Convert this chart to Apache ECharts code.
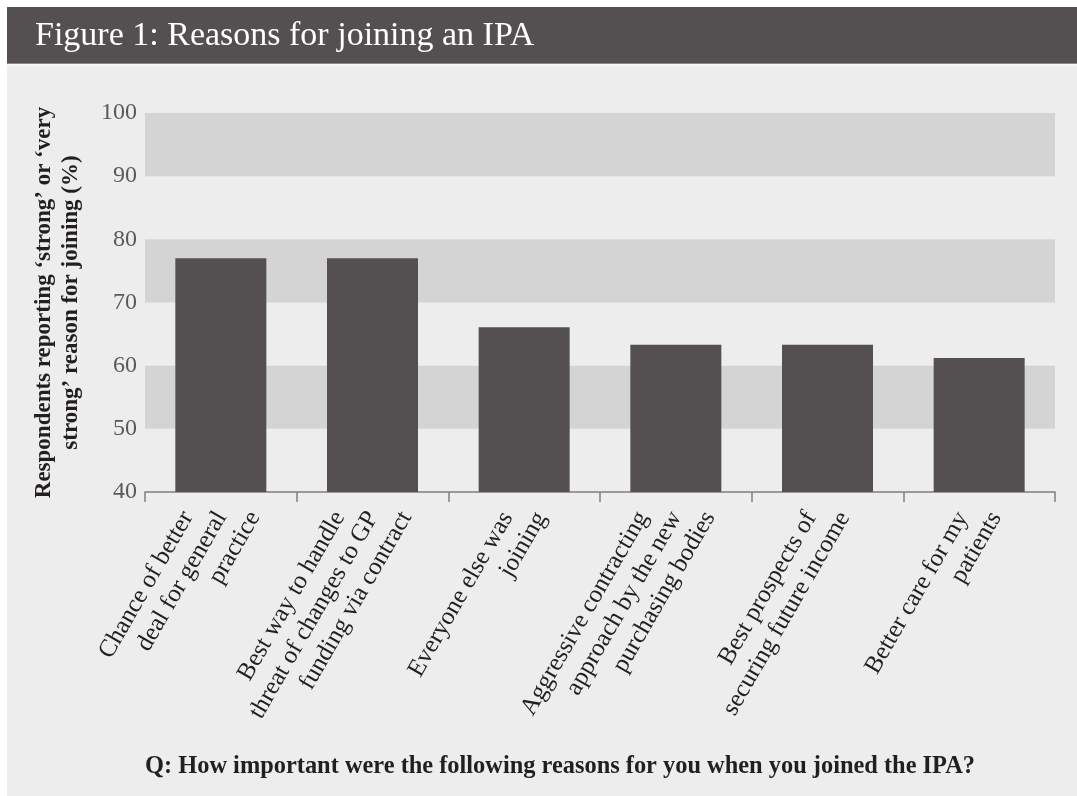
<!DOCTYPE html>
<html>
<head>
<meta charset="utf-8">
<script src="https://cdn.jsdelivr.net/npm/echarts@6/dist/echarts.min.js"></script>
<style>
html,body{margin:0;padding:0;background:#ffffff;}
#chart{width:1077px;height:796px;}
</style>
</head>
<body>
<div id="chart"></div>
<script>
// ---- data ----
var titleText = 'Figure 1: Reasons for joining an IPA';
var questionText = 'Q: How important were the following reasons for you when you joined the IPA?';
var yAxisTitle = 'Respondents reporting \u2018strong\u2019 or \u2018very\nstrong\u2019 reason for joining (%)';
var categories = [
  'Chance of better\ndeal for general\npractice',
  'Best way to handle\nthreat of changes to GP\nfunding via contract',
  'Everyone else was\njoining',
  'Aggressive contracting\napproach by the new\npurchasing bodies',
  'Best prospects of\nsecuring future income',
  'Better care for my\npatients'
];
var values = [77.0, 77.0, 66.1, 63.3, 63.3, 61.2];
var yMin = 40, yMax = 100, yStep = 10;

// ---- styling ----
var SERIF = '"Liberation Serif", "DejaVu Serif", serif';
var DARK = '#545051';
var TEXT = '#231f20';
var LH = 29;          // label line height
var STEP = 16.7;      // per-line shift along text direction
var EXTRA2 = 8.8;     // extra shift for two-line labels
var BASEPAD = 6;

var rich = {};
for (var n = 1; n <= 3; n++) {
  for (var i = 0; i < n; i++) {
    var pad = (n - 1 - i) * STEP + (3 - n) * EXTRA2 + BASEPAD;
    rich['l' + n + i] = {
      fontFamily: SERIF, fontSize: 25, color: TEXT, lineHeight: LH,
      align: 'right', padding: [0, pad, 0, 0]
    };
  }
}

var chart = echarts.init(document.getElementById('chart'), null, {renderer: 'canvas'});
chart.setOption({
  backgroundColor: '#ffffff',
  animation: false,
  graphic: [
    {type: 'rect', left: 7, top: 7, z: -10, shape: {width: 1070, height: 789}, style: {fill: '#ededed'}},
    {type: 'rect', left: 7, top: 7, z: -9, shape: {width: 1070, height: 57}, style: {fill: DARK}},
    {type: 'rect', left: 7, top: 64, z: -9, shape: {width: 1070, height: 2}, style: {fill: '#f7f7f7'}},
    {type: 'rect', left: 7, top: 63, z: -8, shape: {width: 1070, height: 1}, style: {fill: '#8c8889'}}
  ],
  title: [
    {text: titleText, left: 30, top: 14,
     textStyle: {fontFamily: SERIF, fontSize: 34, fontWeight: 'normal', color: '#ffffff'}},
    {text: questionText, left: 555, top: 750, textAlign: 'center',
     textStyle: {fontFamily: SERIF, fontSize: 24.4, fontWeight: 'bold', color: TEXT}}
  ],
  grid: {left: 145, right: 22, top: 113, bottom: 304, containLabel: false},
  xAxis: {
    type: 'category',
    data: categories,
    axisLine: {show: true, lineStyle: {color: '#7f7f7f', width: 1.5}},
    axisTick: {show: true, length: 10, interval: 0, lineStyle: {color: '#7f7f7f', width: 1.5}},
    axisLabel: {
      interval: 0, rotate: 60, margin: -5, hideOverlap: false,
      verticalAlign: 'middle',
      padding: [27, 0, 0, 0],
      fontFamily: SERIF, fontSize: 25, color: TEXT,
      formatter: function (v) {
        var lines = v.split('\n');
        var n = lines.length;
        return lines.map(function (l, i) { return '{l' + n + i + '|' + l + '}'; }).join('\n');
      },
      rich: rich
    }
  },
  yAxis: {
    type: 'value',
    min: yMin, max: yMax, interval: yStep,
    name: yAxisTitle,
    nameLocation: 'middle',
    nameRotate: 90,
    nameGap: 60,
    nameTextStyle: {fontFamily: SERIF, fontSize: 23, fontWeight: 'bold', color: TEXT, lineHeight: 27, align: 'center'},
    axisLine: {show: false},
    axisTick: {show: false},
    splitLine: {show: false},
    splitArea: {show: true, areaStyle: {color: ['rgba(0,0,0,0)', '#d4d4d4']}},
    axisLabel: {margin: 8, fontFamily: SERIF, fontSize: 24, color: '#595959'}
  },
  series: [{
    type: 'bar',
    data: values,
    barCategoryGap: '40%',
    itemStyle: {color: DARK},
    silent: true
  }]
});
</script>
</body>
</html>
